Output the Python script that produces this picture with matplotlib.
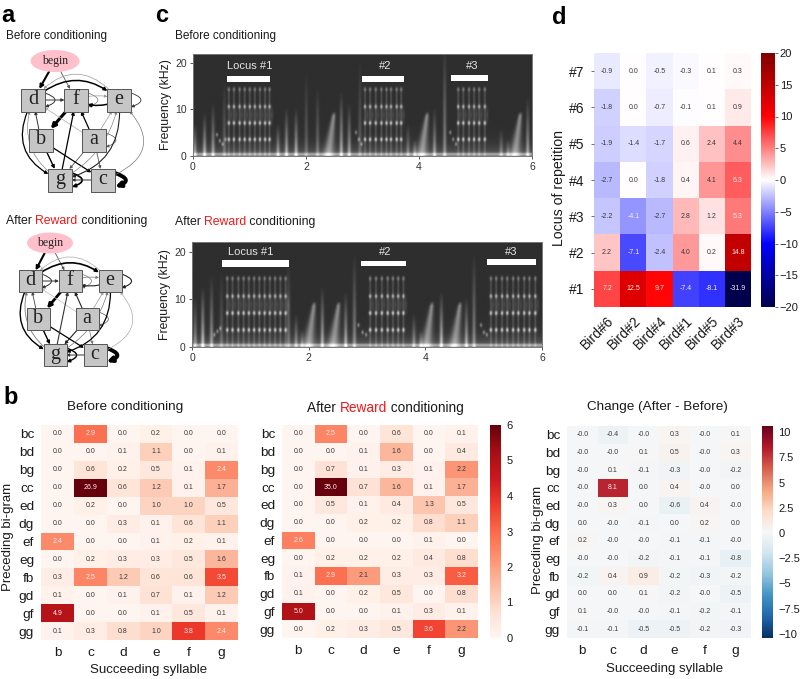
import numpy as np
import matplotlib
matplotlib.use('Agg')
import matplotlib.pyplot as plt
from matplotlib.patches import FancyArrowPatch, Rectangle, Ellipse
from matplotlib.ticker import FuncFormatter

plt.rcParams['font.family'] = ['Liberation Sans', 'DejaVu Sans']
W, H = 800, 679
TXT = '#1a1a1a'

### data
syllables = ['b', 'c', 'd', 'e', 'f', 'g']
bigrams = ['bc', 'bd', 'bg', 'cc', 'ed', 'dg', 'ef', 'eg', 'fb', 'gd', 'gf', 'gg']
before = [[0.0, 2.9, 0.0, 0.2, 0.0, 0.0],
          [0.0, 0.0, 0.1, 1.1, 0.0, 0.1],
          [0.0, 0.6, 0.2, 0.5, 0.1, 2.4],
          [0.0, 26.9, 0.6, 1.2, 0.1, 1.7],
          [0.0, 0.2, 0.0, 1.0, 1.0, 0.5],
          [0.0, 0.0, 0.3, 0.1, 0.6, 1.1],
          [2.4, 0.0, 0.0, 0.1, 0.2, 0.1],
          [0.0, 0.2, 0.3, 0.3, 0.5, 1.6],
          [0.3, 2.5, 1.2, 0.6, 0.6, 3.5],
          [0.1, 0.0, 0.1, 0.7, 0.1, 1.2],
          [4.9, 0.0, 0.0, 0.1, 0.5, 0.1],
          [0.1, 0.3, 0.8, 1.0, 3.8, 2.4]]
after = [[0.0, 2.5, 0.0, 0.6, 0.0, 0.1],
         [0.0, 0.0, 0.1, 1.6, 0.0, 0.4],
         [0.0, 0.7, 0.1, 0.3, 0.1, 2.2],
         [0.0, 35.0, 0.7, 1.6, 0.1, 1.7],
         [0.0, 0.5, 0.1, 0.4, 1.3, 0.5],
         [0.0, 0.0, 0.2, 0.2, 0.8, 1.1],
         [2.6, 0.0, 0.0, 0.0, 0.1, 0.0],
         [0.0, 0.2, 0.2, 0.2, 0.4, 0.8],
         [0.1, 2.9, 2.1, 0.3, 0.3, 3.2],
         [0.1, 0.0, 0.2, 0.5, 0.0, 0.8],
         [5.0, 0.0, 0.0, 0.1, 0.3, 0.1],
         [0.0, 0.2, 0.3, 0.5, 3.6, 2.2]]
change = [[-0.0, -0.4, -0.0, 0.3, -0.0, 0.1],
          [-0.0, -0.0, 0.1, 0.5, -0.0, 0.3],
          [-0.0, 0.1, -0.1, -0.3, -0.0, -0.2],
          [-0.0, 8.1, 0.0, 0.4, -0.0, 0.0],
          [-0.0, 0.3, 0.0, -0.6, 0.4, -0.0],
          [0.0, -0.0, -0.1, 0.0, 0.2, 0.0],
          [0.2, -0.0, -0.0, -0.1, -0.1, -0.0],
          [-0.0, -0.0, -0.2, -0.1, -0.1, -0.8],
          [-0.2, 0.4, 0.9, -0.2, -0.3, -0.2],
          [0.0, 0.0, 0.1, -0.2, -0.0, -0.5],
          [0.1, -0.0, -0.0, -0.1, -0.2, -0.1],
          [-0.1, -0.1, -0.5, -0.5, -0.2, -0.3]]

birds = ['Bird#6', 'Bird#2', 'Bird#4', 'Bird#1', 'Bird#5', 'Bird#3']
loci = ['#7', '#6', '#5', '#4', '#3', '#2', '#1']
locus_change = [[-0.9, 0.0, -0.5, -0.3, 0.1, 0.3],
                [-1.8, 0.0, -0.7, -0.1, 0.1, 0.9],
                [-1.9, -1.4, -1.7, 0.6, 2.4, 4.4],
                [-2.7, 0.0, -1.8, 0.4, 4.1, 6.3],
                [-2.2, -4.1, -2.7, 2.8, 1.2, 5.3],
                [2.2, -7.1, -2.4, 4.0, 0.2, 14.8],
                [7.2, 12.5, 9.7, -7.4, -8.1, -31.9]]

# spectrogram events: (time s, top kHz, brightness)
stripes_before = [(0.03, 6, .35), (0.2, 8, .4), (0.35, 10, .35), (0.55, 14, .2), (1.5, 6, .35), (1.65, 9, .4),
                  (1.82, 9, .4), (2.0, 16, .18), (2.2, 13, .22), (2.62, 12, .4), (2.76, 10, .35), (2.95, 18, .18),
                  (3.8, 6, .25), (3.92, 3, .3), (4.27, 9, .35), (4.45, 21, .3), (5.45, 5, .25), (5.57, 3, .25), (5.92, 11, .35)]
wedges_before = [2.45, 4.1, 5.75]
notes_before = [0.63, 0.72, 0.82, 0.91, 1.0, 1.09, 1.18, 1.27, 1.35,
                3.04, 3.13, 3.23, 3.33, 3.42, 3.5, 3.6, 3.68,
                4.69, 4.78, 4.88, 4.97, 5.06, 5.16]
lead_before = [(0.42, 4.5), (0.47, 3.2), (0.52, 2.5), (0.57, 3.5), (2.88, 5), (2.93, 3.5), (2.98, 2.5),
               (4.55, 5), (4.6, 3.5), (4.65, 2.5)]
bars_before = [(0.6, 1.36, 15.9, 17.1), (2.99, 3.74, 15.9, 17.1), (4.56, 5.23, 16.1, 17.3)]
bar_text_before = [(1.0, 19.3, 'Locus #1'), (3.4, 19.3, '#2'), (4.95, 19.3, '#3')]

stripes_after = [(0.05, 9, .3), (0.18, 11, .45), (0.33, 13, .35), (0.5, 14, .18), (1.65, 16, .22), (1.78, 6, .3),
                 (1.88, 3, .25), (2.23, 11, .4), (2.63, 10, .4), (2.78, 17, .3), (3.8, 6, .3), (3.92, 3, .25),
                 (4.27, 10, .45), (4.7, 9, .4), (4.83, 17, .3)]
wedges_after = [2.05, 2.47, 4.07, 4.55]
notes_after = [0.6, 0.69, 0.79, 0.88, 0.97, 1.06, 1.15, 1.24, 1.33, 1.42, 1.51, 1.6,
               3.05, 3.15, 3.25, 3.35, 3.44, 3.53, 3.62,
               5.12, 5.21, 5.31, 5.4, 5.5, 5.59, 5.69, 5.78, 5.88]
lead_after = [(0.38, 2.5), (0.43, 3.2), (0.48, 3.8), (2.85, 4.5), (2.92, 3), (2.98, 2.5),
              (4.95, 4.5), (5.0, 3), (5.05, 2.5)]
bars_after = [(0.52, 1.66, 16.7, 18.2), (2.9, 3.67, 16.9, 18.1), (5.06, 5.9, 17.1, 18.4)]
bar_text_after = [(1.0, 20, 'Locus #1'), (3.31, 20, '#2'), (5.47, 20, '#3')]
harmonics = [(3.5, .5), (7.0, .5), (10.5, .42), (14.2, .22)]

# transition graphs: (from, to, width, colour, curvature)
edges_before = [('begin', 'd', 1.5, 'k', 0), ('begin', 'f', .6, '#555555', 0), ('d', 'e', 1.1, 'k', -.45), ('e', 'd', .5, '#999999', .6),
                ('d', 'd', .7, '#333333', 0), ('f', 'f', .5, '#777777', 0), ('e', 'e', .6, '#333333', 0), ('d', 'f', .7, '#333333', 0),
                ('f', 'e', .5, '#999999', -.2), ('e', 'f', 1.1, 'k', -.25), ('f', 'b', 2.2, 'k', 0), ('b', 'd', .7, '#333333', 0),
                ('a', 'f', .9, 'k', 0), ('a', 'e', .5, '#999999', 0), ('a', 'd', .5, '#aaaaaa', 0), ('a', 'a', .5, '#555555', 0),
                ('a', 'g', .6, '#555555', 0), ('a', 'c', .6, '#555555', 0), ('b', 'g', 1, 'k', 0), ('b', 'c', .9, 'k', 0),
                ('d', 'g', .9, 'k', .55), ('g', 'd', .5, '#888888', -.4), ('g', 'f', .9, 'k', 0), ('g', 'g', 1.2, 'k', 0),
                ('c', 'g', .7, '#333333', 0), ('c', 'c', 2.8, 'k', 0), ('e', 'g', .8, '#222222', -.45), ('g', 'e', .5, '#888888', .25),
                ('c', 'e', .5, '#777777', .8)]
edges_after = [('begin', 'd', 1.5, 'k', 0), ('begin', 'f', .6, '#555555', 0), ('d', 'e', 1.2, 'k', -.45), ('e', 'd', .5, '#aaaaaa', .6),
               ('d', 'd', .7, '#333333', 0), ('f', 'f', .5, '#777777', 0), ('e', 'e', .8, '#222222', 0), ('d', 'f', .7, '#333333', 0),
               ('f', 'e', .5, '#777777', -.2), ('e', 'f', .8, '#222222', -.25), ('f', 'b', 2, 'k', 0), ('b', 'd', .6, '#444444', 0),
               ('a', 'f', .8, '#222222', 0), ('a', 'e', .5, '#999999', 0), ('a', 'd', .5, '#bbbbbb', 0), ('a', 'a', .5, '#555555', 0),
               ('a', 'g', .8, '#222222', 0), ('a', 'c', .5, '#777777', 0), ('b', 'g', 1, 'k', 0), ('b', 'c', .9, 'k', 0),
               ('d', 'g', 1, 'k', .55), ('g', 'd', .6, '#777777', -.4), ('g', 'f', .8, '#333333', 0), ('g', 'g', 1, 'k', 0),
               ('c', 'g', .7, '#333333', 0), ('c', 'c', 2.8, 'k', 0), ('e', 'g', .9, 'k', -.45), ('g', 'e', .5, '#777777', .25),
               ('c', 'e', .5, '#aaaaaa', .8)]


def px_axes(x0, y0, x1, y1):
    #pixel box (top-left origin) -> axes
    return fig.add_axes([x0 / W, 1 - y1 / H, (x1 - x0) / W, (y1 - y0) / H])


fig = plt.figure(figsize=(8, 6.79), dpi=100)
canvas = fig.add_axes([0, 0, 1, 1])
canvas.set_xlim(0, W)
canvas.set_ylim(H, 0)
canvas.axis('off')
renderer = fig.canvas.get_renderer()


def label(x, y, s, size=9.5, **kw):
    kw.setdefault('color', TXT)
    kw.setdefault('ha', 'left')
    kw.setdefault('va', 'center')
    return canvas.text(x, y, s, fontsize=size, **kw)


def reward_title(x, y, size):
    #three pieces because of the red word
    for s, col in [('After ', TXT), ('Reward', '#f01818'), (' conditioning', TXT)]:
        t = label(x, y, s, size, va='baseline', color=col)
        x += t.get_window_extent(renderer).width


###a
def draw_graph(nodes, begin, edges, bw, bh):
    boxes = {}
    for name, (cx, cy) in nodes.items():
        r = Rectangle((cx - bw / 2, cy - bh / 2), bw, bh, fc='#c6c6c6', ec='#555555', lw=.7, zorder=4)
        canvas.add_patch(r)
        canvas.text(cx, cy - .5, name, fontsize=14.5, family='Liberation Serif', ha='center', va='center', color='#222222', zorder=5)
        boxes[name] = r
    e = Ellipse(begin[:2], begin[2], begin[3], fc='#ffc0cb', ec='none', zorder=4)
    canvas.add_patch(e)
    canvas.text(begin[0], begin[1], 'begin', fontsize=8.5, family='Liberation Serif', ha='center', va='center', color='#222222', zorder=5)
    boxes['begin'] = e
    centers = dict(nodes)
    centers['begin'] = begin[:2]
    for src, dst, lw, col, rad in edges:
        ms = 3.5 + 1.3 * lw
        if src == dst:
            cx, cy = centers[src]
            a = FancyArrowPatch((cx + bw / 2, cy - 7), (cx + bw / 2, cy + 7), connectionstyle='arc3,rad=-1.4',
                                arrowstyle='-|>', mutation_scale=ms, lw=lw, color=col, shrinkA=0, shrinkB=0, zorder=3)
        else:
            a = FancyArrowPatch(centers[src], centers[dst], connectionstyle='arc3,rad=%s' % rad, patchA=boxes[src], patchB=boxes[dst],
                                arrowstyle='-|>', mutation_scale=ms, lw=lw, color=col, shrinkA=0, shrinkB=0, zorder=3)
        canvas.add_patch(a)


draw_graph({'d': (33, 100), 'f': (76, 100), 'e': (119, 100), 'b': (41, 140), 'a': (94, 140), 'g': (60, 180), 'c': (103, 180)},
           (55, 61, 49, 22), edges_before, 24, 23)
draw_graph({'d': (30, 281), 'f': (70, 281), 'e': (110, 281), 'b': (38, 319), 'a': (87, 319), 'g': (55, 355), 'c': (95, 355)},
           (50, 243, 46, 21), edges_after, 23, 22)
label(6.5, 36, 'Before conditioning', 8.5)
reward_title(6, 224, 8.8)
label(1, 15, 'a', 17, weight='bold', color='k')
label(3, 398, 'b', 17, weight='bold', color='k')
label(155, 16, 'c', 17, weight='bold', color='k')
label(552, 18, 'd', 17, weight='bold', color='k')


###c
def draw_spec(box, stripes, wedges, notes, lead, bars, bar_text):
    ax = px_axes(*box)
    t = np.arange(0, 6, .01)
    f = np.arange(0, 22, .1)
    T, F = np.meshgrid(t, f)
    img = np.full(T.shape, .18)
    for t0, top, b in stripes:
        img += b * np.exp(-((T - t0) / .03) ** 2) * np.clip(1.15 - F / top, 0, 1)
    for t0 in wedges:
        c = t0 - .06 + .1 * F / 9
        w = .03 + .06 * np.clip(1 - F / 9, 0, 1)
        img += .36 * np.exp(-((T - c) / w) ** 2) * np.clip(9.5 - F, 0, 1)
    for t0 in notes:
        img += .14 * np.exp(-((T - t0) / .018) ** 2) * np.clip(15 - F, 0, 1)
        img += .1 * np.exp(-((T - t0 - .04) / .025) ** 2 - ((F - 8.7) / 1.5) ** 2)
        for h, b in harmonics:
            img += b * np.exp(-((T - t0) / .024) ** 2 - ((F - h) / .42) ** 2)
    for t0, f0 in lead:
        img += .35 * np.exp(-((T - t0) / .02) ** 2 - ((F - f0) / .4) ** 2)
    img += .25 * np.exp(-F / 1.5) + .3 * np.exp(-((F - .35) / .3) ** 2)
    ax.imshow(img, origin='lower', extent=(0, 6, 0, 22), aspect='auto', cmap='gray', vmin=0, vmax=1, interpolation='bilinear')
    for t0, t1, f0, f1 in bars:
        ax.add_patch(Rectangle((t0, f0), t1 - t0, f1 - f0, fc='white', ec='none'))
    for tx, fy, s in bar_text:
        ax.text(tx, fy, s, color='#e6e6e6', fontsize=8, ha='center', va='center')
    ax.set_xticks([0, 2, 4, 6])
    ax.set_yticks([0, 10, 20])
    ax.tick_params(labelsize=7.5, length=2.5, width=.7, color='#555555', labelcolor='#333333', pad=2)
    for s in ax.spines.values():
        s.set_color('#777777')
        s.set_linewidth(.7)
    ax.set_ylabel('Frequency (kHz)', fontsize=8.8, color=TXT, labelpad=2)
    return ax


draw_spec((193, 53.5, 532, 156), stripes_before, wedges_before, notes_before, lead_before, bars_before, bar_text_before)
draw_spec((192, 242, 542, 347), stripes_after, wedges_after, notes_after, lead_after, bars_after, bar_text_after)
label(175, 36, 'Before conditioning', 8.5)
reward_title(175, 225, 8.8)


###heatmaps
def draw_heat(box, cbox, values, xlabels, ylabels, cmap, vmin, vmax, cticks=None, ann=5, tick=9.7):
    ax = px_axes(*box)
    arr = np.array(values)
    mesh = ax.pcolormesh(arr, cmap=cmap, vmin=vmin, vmax=vmax)
    ax.set_ylim(arr.shape[0], 0)
    for i in range(arr.shape[0]):
        for j in range(arr.shape[1]):
            rgba = np.array(mesh.cmap(mesh.norm(arr[i, j]))[:3])
            lum = (rgba ** 2.2 * [.2126, .7152, .0722]).sum()
            ax.text(j + .5, i + .5, '%.1f' % arr[i, j], fontsize=ann, ha='center', va='center',
                    color='#3a3a3a' if lum > .408 else '#ffeeee')
    ax.set_xticks(np.arange(arr.shape[1]) + .5, xlabels)
    ax.set_yticks(np.arange(arr.shape[0]) + .5, ylabels)
    ax.tick_params(length=0, labelsize=tick, labelcolor=TXT, pad=5)
    for s in ax.spines.values():
        s.set_visible(False)
    if cbox is None:
        return ax, None
    cax = px_axes(*cbox)
    cb = fig.colorbar(mesh, cax=cax, ticks=cticks, format=FuncFormatter(lambda v, p: ('%g' % v).replace('-', '\u2212')))
    cb.ax.tick_params(labelsize=8, length=0, labelcolor=TXT, pad=4)
    cb.outline.set_visible(False)
    return ax, cb


draw_heat((41, 425, 238, 640), None, before, syllables, bigrams, 'Reds', 0, 6)
draw_heat((282, 425, 478, 638), (490, 425, 501, 638), after, syllables, bigrams, 'Reds', 0, 6, [0, 1, 2, 3, 4, 5, 6])
draw_heat((567, 426, 751, 638), (762, 426, 773, 638), change, syllables, bigrams, 'RdBu_r', -10.4, 10.6,
          [-10, -7.5, -5, -2.5, 0, 2.5, 5, 7.5, 10])
ax_d, cb_d = draw_heat((594, 53, 751, 307), (761, 53, 775, 307), locus_change, birds, loci, 'seismic', -20, 20,
                       [-20, -15, -10, -5, 0, 5, 10, 15, 20])
ax_d.tick_params(axis='y', length=2, width=.6, color='#555555', pad=5, labelsize=10)
ax_d.set_xticklabels(birds, rotation=45, ha='right', rotation_mode='anchor', fontsize=10)
cb_d.ax.tick_params(length=2, width=.6, color='#555555', pad=1.5)

label(125, 407, 'Before conditioning', 9.7, ha='center')
reward_title(307, 412, 9.8)
label(657, 407, 'Change (After - Before)', 9.7, ha='center')
label(149, 670, 'Succeeding syllable', 9.5, ha='center')
label(665, 669, 'Succeeding syllable', 9.5, ha='center')
label(8, 537, 'Preceding bi-gram', 9.5, ha='center', rotation=90)
label(538, 540, 'Preceding bi-gram', 9.5, ha='center', rotation=90)
label(559, 188, 'Locus of repetition', 10.2, ha='center', rotation=90)

fig.savefig('out.png', dpi=100)
